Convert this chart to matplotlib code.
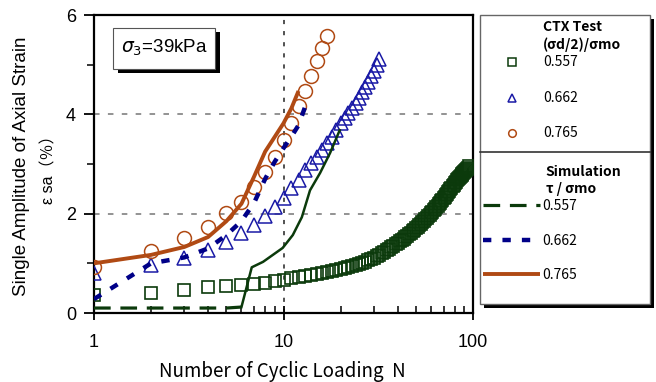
import numpy as np
import matplotlib.pyplot as plt
from matplotlib.lines import Line2D
from matplotlib.patches import Rectangle
from matplotlib.ticker import FixedLocator, FixedFormatter, NullFormatter

plt.rcParams['lines.scale_dashes'] = False
plt.rcParams['mathtext.fontset'] = 'dejavusans'

# ---- data ----
# CTX test, (sigma_d/2)/sigma_mo = 0.557 (squares)
n_sq = np.arange(1, 96)
y_sq = [0.36, 0.40, 0.47, 0.52, 0.54, 0.57, 0.59, 0.61, 0.64, 0.67,
        0.70, 0.72, 0.74, 0.76, 0.78, 0.80, 0.82, 0.85, 0.87, 0.89,
        0.91, 0.93, 0.95, 0.97, 0.99, 1.01, 1.03, 1.06, 1.08, 1.11,
        1.14, 1.17, 1.20, 1.23, 1.26, 1.29, 1.32, 1.35, 1.38, 1.41,
        1.44, 1.47, 1.50, 1.53, 1.56, 1.59, 1.62, 1.65, 1.68, 1.71,
        1.74, 1.77, 1.80, 1.83, 1.86, 1.89, 1.92, 1.95, 1.98, 2.01,
        2.04, 2.07, 2.10, 2.13, 2.16, 2.19, 2.22, 2.25, 2.28, 2.31,
        2.34, 2.37, 2.40, 2.43, 2.46, 2.49, 2.52, 2.55, 2.58, 2.61,
        2.64, 2.67, 2.70, 2.72, 2.74, 2.76, 2.78, 2.80, 2.82, 2.84,
        2.86, 2.88, 2.90, 2.92, 2.95]
# 0.662 (triangles)
n_tri = np.arange(1, 33)
y_tri = [0.80, 0.97, 1.10, 1.27, 1.43, 1.62, 1.77, 1.95, 2.14, 2.32,
         2.51, 2.68, 2.88, 3.02, 3.14, 3.28, 3.42, 3.55, 3.68, 3.82,
         3.93, 4.03, 4.13, 4.23, 4.33, 4.44, 4.55, 4.66, 4.77, 4.88,
         5.00, 5.11]
# 0.765 (circles)
n_cir = np.arange(1, 18)
y_cir = [0.93, 1.25, 1.51, 1.73, 2.01, 2.23, 2.54, 2.84, 3.14, 3.48,
         3.82, 4.16, 4.47, 4.77, 5.07, 5.33, 5.57]

# Simulation, tau/sigma_mo
n_s1 = [1, 2, 3, 4, 5, 6, 6.8, 7.8, 9.9, 11.2, 12.5, 13.8, 15.6, 17.6, 19.8]
y_s1 = [0.10, 0.10, 0.10, 0.10, 0.10, 0.12, 0.92, 1.03, 1.31, 1.57, 1.93,
        2.47, 2.82, 3.22, 3.68]
n_s2 = [1, 2, 3, 4, 5, 6, 7, 8, 9, 10, 11, 12, 13]
y_s2 = [0.28, 1.00, 1.12, 1.30, 1.57, 1.85, 2.22, 2.70, 3.05, 3.32, 3.55,
        3.78, 4.15]
n_s3 = [1, 2, 3, 4, 5, 6, 7, 8, 9, 10, 11, 12]
y_s3 = [1.00, 1.17, 1.33, 1.53, 1.85, 2.20, 2.75, 3.25, 3.55, 3.82, 4.12,
        4.47]

levels = ['0.557', '0.662', '0.765']
x_ticks = [1, 10, 100]
x_ticklabels = ['1', '10', '100']
y_ticks = [0, 2, 4, 6]

green = '#0B3A0B'
blue = '#000088'
tri_blue = '#1A1AA6'
brown = '#B04A14'

W, H = 656, 382


def fx(px):
    return px / W


def fy(py):
    return 1 - py / H


fig = plt.figure(figsize=(W / 100, H / 100), dpi=100)
ax = fig.add_axes([fx(94), fy(313), (473 - 94) / W, (313 - 15) / H])

ax.set_xscale('log')
ax.set_xlim(1, 100)
ax.set_ylim(0, 6)

# grid
for yv in [2, 4]:
    ax.axhline(yv, color='#808080', lw=1.2, dashes=(4, 6), zorder=1)
ax.axvline(10, color='#333333', lw=1.2, dashes=(3, 5), zorder=1)

# test data
ax.plot(n_sq, y_sq, ls='none', marker='s', ms=8, mfc='none', mec=green,
        mew=1.2, zorder=3)
ax.plot(n_tri, y_tri, ls='none', marker='^', ms=9.5, mfc='none', mec=tri_blue,
        mew=1.1, zorder=3)
ax.plot(n_cir, y_cir, ls='none', marker='o', ms=10, mfc='none', mec=brown,
        mew=1.1, zorder=3)

# simulation lines
k = 6
ax.plot(n_s1[:k], y_s1[:k], color=green, lw=2.3, dashes=(12, 7), zorder=4)
ax.plot(n_s1[k - 1:], y_s1[k - 1:], color=green, lw=1.8, zorder=4)
ax.plot(n_s2, y_s2, color=blue, lw=3.2, dashes=(6, 8), zorder=4)
ax.plot(n_s3, y_s3, color=brown, lw=2.8, zorder=4, solid_capstyle='butt')

# axes styling
for s in ax.spines.values():
    s.set_linewidth(1.6)
ax.xaxis.set_major_locator(FixedLocator(x_ticks))
ax.xaxis.set_major_formatter(FixedFormatter(x_ticklabels))
ax.xaxis.set_minor_formatter(NullFormatter())
ax.set_yticks(y_ticks)
ax.yaxis.set_minor_locator(FixedLocator([1, 3, 5]))
ax.tick_params(axis='x', which='major', direction='inout', length=10,
               width=1.3, pad=10, labelsize=13)
ax.tick_params(axis='x', which='minor', direction='in', length=5, width=1.1)
ax.tick_params(axis='y', which='major', direction='out', length=7, width=1.3,
               pad=6, labelsize=13)
ax.tick_params(axis='y', which='minor', direction='out', length=5, width=1.1)
for lab in ax.get_xticklabels() + ax.get_yticklabels():
    lab.set_family('Liberation Sans')

# axis titles
fig.text(fx(22), fy(166), 'Single Amplitude of Axial Strain', rotation=90,
         ha='center', va='center', fontsize=13.5, family='Liberation Sans')
fig.text(fx(49), fy(166), 'ε sa（％）', rotation=90, ha='center',
         va='center', fontsize=11.5, family=['Liberation Sans', 'Noto Sans CJK JP'])
fig.text(fx(282), fy(371), 'Number of Cyclic Loading  N', ha='center',
         va='center', fontsize=13.5, family='Noto Sans CJK JP')

# sigma3 box
fig.patches.append(Rectangle((fx(118), fy(73)), (215 - 113) / W, (69 - 28) / H,
                             transform=fig.transFigure, fc='black', ec='none',
                             zorder=5))
fig.patches.append(Rectangle((fx(113), fy(69)), (215 - 113) / W, (69 - 28) / H,
                             transform=fig.transFigure, fc='white',
                             ec='#555555', lw=0.8, zorder=6))
fig.text(fx(164), fy(48), r'$\sigma_{3}$=39kPa', ha='center', va='center',
         fontsize=13.5, family='Liberation Sans', zorder=7)

# legend panel
fig.patches.append(Rectangle((fx(484), fy(308)), (650 - 480) / W, (304 - 15) / H,
                             transform=fig.transFigure, fc='black', ec='none',
                             zorder=5))
fig.patches.append(Rectangle((fx(480), fy(304)), (650 - 480) / W, (304 - 15) / H,
                             transform=fig.transFigure, fc='white',
                             ec='#666666', lw=1.0, zorder=6))
fig.lines.append(Line2D([fx(480), fx(650)], [fy(152), fy(152)],
                        transform=fig.transFigure, color='#333333', lw=1.2,
                        zorder=7))

lg_font = ['Noto Sans CJK JP', 'DejaVu Sans']
fig.text(fx(543), fy(27), 'CTX Test', ha='left', va='center', fontsize=10,
         weight='bold', family=lg_font, zorder=8)
fig.text(fx(543), fy(45), '(σd/2)/σmo', ha='left', va='center', fontsize=10,
         weight='bold', family=lg_font, zorder=8)
fig.text(fx(545), fy(172), 'Simulation', ha='left', va='center', fontsize=10,
         weight='bold', family=lg_font, zorder=8)
fig.text(fx(546), fy(189), 'τ / σmo', ha='left', va='center', fontsize=10,
         weight='bold', family=lg_font, zorder=8)

marker_rows = [('s', green, 62), ('^', tri_blue, 98), ('o', brown, 133)]
for (m, c, py), lev in zip(marker_rows, levels):
    fig.lines.append(Line2D([fx(512)], [fy(py)], transform=fig.transFigure,
                            ls='none', marker=m, ms=5.5, mfc='none', mec=c,
                            mew=1.1, zorder=8))
    fig.text(fx(543), fy(py), lev, ha='left', va='center', fontsize=10,
             family=lg_font, zorder=8)

line_rows = [(green, 2.3, (12, 7), 205), (blue, 3.2, (6, 8), 240),
             (brown, 2.8, None, 274)]
for (c, lw, d, py), lev in zip(line_rows, levels):
    ln = Line2D([fx(483), fx(540)], [fy(py), fy(py)], transform=fig.transFigure,
                color=c, lw=lw, zorder=8, solid_capstyle='butt')
    if d is not None:
        ln.set_dashes(d)
    fig.lines.append(ln)
    fig.text(fx(542), fy(py + 1), lev, ha='left', va='center', fontsize=10,
             family=lg_font, zorder=8)

fig.savefig('out.png', dpi=100)
